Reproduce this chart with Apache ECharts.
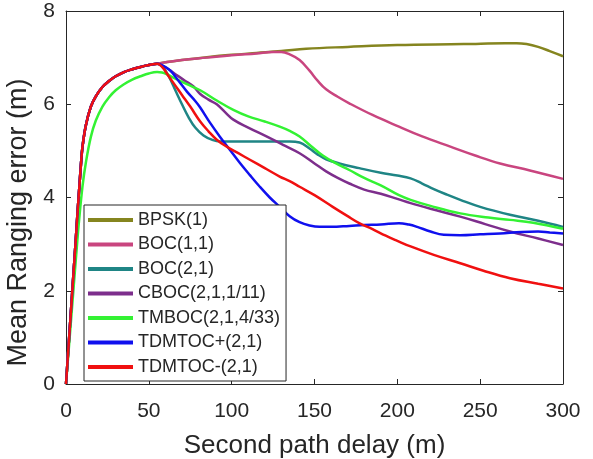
<!DOCTYPE html>
<html>
<head>
<meta charset="utf-8">
<script src="https://cdn.jsdelivr.net/npm/echarts@6/dist/echarts.min.js"></script>
<style>
  html, body { margin: 0; padding: 0; background: #fff; }
  #chart { width: 593px; height: 459px; }
</style>
</head>
<body>
<div id="chart"></div>
<script>
// Shared start-up segment (all curves except TMBOC rise together)
const riseX = [0, 2, 4, 6, 7, 8, 9, 10, 12, 15, 18, 22, 26, 30, 35, 40, 45, 50, 55];
const riseY = [0, 1.05, 2.1, 3.15, 3.7, 4.2, 4.7, 5.1, 5.55, 5.95, 6.17, 6.37, 6.5, 6.6, 6.69, 6.75, 6.8, 6.84, 6.87];

const bpskX = [60, 70, 85, 100, 115, 130, 145, 170, 200, 240, 265, 272, 278, 285, 292, 300];
const bpskY = [6.9, 6.95, 7.01, 7.06, 7.1, 7.14, 7.19, 7.23, 7.27, 7.29, 7.31, 7.31, 7.29, 7.23, 7.14, 7.03];

const boc11X = [60, 70, 85, 100, 115, 125, 130, 135, 141, 147, 152, 157, 164, 171, 185, 201, 215, 232, 247, 262, 280, 300];
const boc11Y = [6.9, 6.95, 7.0, 7.05, 7.09, 7.12, 7.12, 7.07, 6.95, 6.72, 6.5, 6.32, 6.16, 6.02, 5.77, 5.52, 5.31, 5.09, 4.9, 4.73, 4.58, 4.4];

const boc21X = [58, 62, 66, 70, 74, 78, 83, 88, 93, 100, 120, 135, 141, 147, 152, 157, 165, 177, 190, 200, 208, 215, 222, 230, 238, 250, 268, 285, 300];
const boc21Y = [6.82, 6.6, 6.3, 6.0, 5.72, 5.5, 5.33, 5.24, 5.2, 5.2, 5.2, 5.2, 5.18, 5.05, 4.92, 4.82, 4.73, 4.63, 4.53, 4.47, 4.41, 4.3, 4.18, 4.06, 3.95, 3.8, 3.63, 3.5, 3.37];

const cbocX = [58, 62, 67, 72, 77, 81, 86, 91, 96, 101, 110, 121, 131, 141, 150, 157, 164, 171, 180, 190, 200, 208, 220, 238, 253, 268, 285, 300];
const cbocY = [6.83, 6.75, 6.62, 6.5, 6.38, 6.22, 6.1, 6.0, 5.83, 5.67, 5.5, 5.31, 5.13, 4.95, 4.73, 4.56, 4.42, 4.3, 4.17, 4.08, 3.97, 3.88, 3.76, 3.59, 3.43, 3.27, 3.12, 2.98];

const tmbocX = [0, 2, 4, 6, 8, 10, 12, 15, 18, 22, 26, 30, 35, 40, 45, 50, 55, 58, 61, 66, 73, 81, 91, 101, 110, 120, 129, 135, 141, 148, 155, 163, 171, 180, 190, 201, 208, 220, 238, 255, 268, 282, 300];
const tmbocY = [0, 0.9, 1.8, 2.7, 3.55, 4.25, 4.75, 5.3, 5.65, 5.95, 6.15, 6.3, 6.43, 6.53, 6.6, 6.66, 6.69, 6.68, 6.64, 6.55, 6.43, 6.3, 6.08, 5.88, 5.74, 5.63, 5.52, 5.43, 5.31, 5.1, 4.9, 4.73, 4.59, 4.42, 4.26, 4.05, 3.95, 3.82, 3.66, 3.57, 3.52, 3.46, 3.33];

const tdmPlusX = [59, 63, 68, 73, 78, 81, 87, 93, 99, 105, 111, 117, 123, 129, 135, 141, 147, 153, 160, 171, 180, 190, 201, 207, 212, 220, 228, 238, 250, 262, 275, 285, 292, 300];
const tdmPlusY = [6.82, 6.72, 6.5, 6.27, 6.07, 5.93, 5.6, 5.3, 5.02, 4.74, 4.48, 4.23, 4.0, 3.8, 3.6, 3.47, 3.4, 3.37, 3.37, 3.39, 3.41, 3.42, 3.45, 3.42, 3.37, 3.27, 3.2, 3.19, 3.21, 3.23, 3.26, 3.27, 3.25, 3.23];

const tdmMinusX = [58, 62, 66, 70, 75, 81, 86, 91, 97, 104, 111, 120, 129, 135, 141, 150, 161, 170, 177, 185, 193, 200, 208, 222, 238, 252, 268, 285, 300];
const tdmMinusY = [6.8, 6.6, 6.4, 6.2, 5.95, 5.63, 5.42, 5.24, 5.09, 4.95, 4.81, 4.63, 4.45, 4.35, 4.23, 4.05, 3.8, 3.6, 3.45, 3.32, 3.18, 3.07, 2.95, 2.77, 2.59, 2.43, 2.27, 2.15, 2.05];

const seriesNames = ['BPSK(1)', 'BOC(1,1)', 'BOC(2,1)', 'CBOC(2,1,1/11)', 'TMBOC(2,1,4/33)', 'TDMTOC+(2,1)', 'TDMTOC-(2,1)'];
const seriesColors = ['#85851f', '#c9457f', '#1f8585', '#7d2e8c', '#33f233', '#1010ee', '#f01010'];

const xTicks = [0, 50, 100, 150, 200, 250, 300];
const yTicks = [0, 2, 4, 6, 8];

function pairs(xs, ys) {
  return xs.map((x, i) => [x, ys[i]]);
}
function withRise(xs, ys) {
  return pairs(riseX, riseY).concat(pairs(xs, ys));
}

const curves = [
  withRise(bpskX, bpskY),
  withRise(boc11X, boc11Y),
  withRise(boc21X, boc21Y),
  withRise(cbocX, cbocY),
  pairs(tmbocX, tmbocY),
  withRise(tdmPlusX, tdmPlusY),
  withRise(tdmMinusX, tdmMinusY)
];

const FONT = "'Liberation Sans', Arial, Helvetica, sans-serif";
const AX = '#262626';

const chart = echarts.init(document.getElementById('chart'), null, { renderer: 'canvas' });

const axisCommon = {
  type: 'value',
  axisLine: { show: true, onZero: false, lineStyle: { color: AX, width: 1 } },
  axisTick: { show: true, inside: true, length: 5, lineStyle: { color: AX, width: 1 } },
  splitLine: { show: false }
};

chart.setOption({
  animation: false,
  backgroundColor: '#ffffff',
  textStyle: { fontFamily: FONT },
  grid: { left: 66, top: 11, right: 30, bottom: 75, containLabel: false, outerBoundsMode: 'none' },
  xAxis: [
    Object.assign({}, axisCommon, {
      position: 'bottom',
      min: xTicks[0], max: xTicks[xTicks.length - 1], interval: 50,
      axisLabel: { color: AX, fontSize: 21, fontFamily: FONT, margin: 17 },
      name: 'Second path delay (m)',
      nameLocation: 'middle',
      nameGap: 49,
      nameTextStyle: { color: AX, fontSize: 26, fontFamily: FONT }
    }),
    Object.assign({}, axisCommon, {
      position: 'top',
      min: xTicks[0], max: xTicks[xTicks.length - 1], interval: 50,
      axisLabel: { show: false }
    })
  ],
  yAxis: [
    Object.assign({}, axisCommon, {
      position: 'left',
      min: yTicks[0], max: yTicks[yTicks.length - 1], interval: 2,
      axisLabel: { color: AX, fontSize: 21, fontFamily: FONT, margin: 11 },
      name: 'Mean Ranging error (m)',
      nameLocation: 'middle',
      nameGap: 26,
      nameTextStyle: { color: AX, fontSize: 27, fontFamily: FONT, padding: [0, 50, 0, 0] }
    }),
    Object.assign({}, axisCommon, {
      position: 'right',
      min: yTicks[0], max: yTicks[yTicks.length - 1], interval: 2,
      axisLabel: { show: false }
    })
  ],
  legend: {
    orient: 'vertical',
    left: 84,
    top: 205,
    padding: [6, 6, 5, 4],
    itemGap: 6.5,
    itemWidth: 45,
    itemHeight: 4,
    icon: 'rect',
    backgroundColor: '#ffffff',
    borderColor: AX,
    borderWidth: 1,
    borderRadius: 0,
    textStyle: { color: AX, fontSize: 18, lineHeight: 18, fontFamily: FONT },
    data: seriesNames
  },
  series: curves.map((d, i) => ({
    name: seriesNames[i],
    type: 'line',
    data: d,
    xAxisIndex: 0,
    yAxisIndex: 0,
    showSymbol: false,
    symbol: 'none',
    smooth: 0.4,
    lineStyle: { color: seriesColors[i], width: 2.5 },
    itemStyle: { color: seriesColors[i] },
    emphasis: { disabled: true }
  }))
});
</script>
</body>
</html>
